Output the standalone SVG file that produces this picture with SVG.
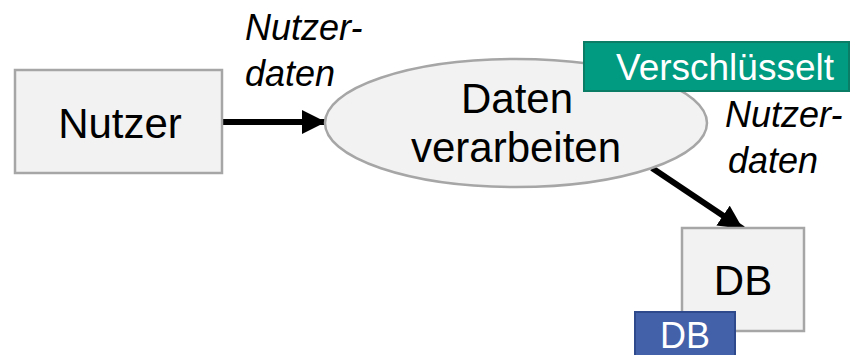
<svg xmlns="http://www.w3.org/2000/svg" width="852" height="355" viewBox="0 0 852 355">
  <style>
    .node { fill: #f2f2f2; stroke: #a6a6a6; stroke-width: 2.5; }
    .label { font-family: "Liberation Sans", Arial, sans-serif; font-size: 42px; fill: #000; text-anchor: middle; }
    .flow { font-family: "Liberation Sans", Arial, sans-serif; font-size: 36px; font-style: italic; fill: #000; }
    .tag { font-family: "Liberation Sans", Arial, sans-serif; font-size: 37px; fill: #fff; text-anchor: middle; }
    .edge { stroke: #000; stroke-width: 6; fill: none; }
  </style>
  <defs>
    <marker id="arrow" viewBox="0 0 10 10" refX="10" refY="5" markerWidth="4" markerHeight="4" markerUnits="strokeWidth" orient="auto">
      <path d="M0,0 L10,5 L0,10 z" fill="#000"/>
    </marker>
  </defs>
  <rect width="852" height="355" fill="#fff"/>

  <g id="connectors">
    <line class="edge" x1="222" y1="122" x2="326" y2="122" marker-end="url(#arrow)"/>
    <line class="edge" x1="652" y1="168" x2="743" y2="229" marker-end="url(#arrow)"/>
    <text class="flow" x="245" y="40">Nutzer-</text>
    <text class="flow" x="245" y="86">daten</text>
    <text class="flow" x="725" y="127">Nutzer-</text>
    <text class="flow" x="728" y="173">daten</text>
  </g>

  <g id="nutzer">
    <rect class="node" x="15" y="70" width="207" height="103"/>
    <text class="label" x="120" y="138">Nutzer</text>
  </g>

  <g id="verarbeiten">
    <ellipse class="node" cx="516" cy="123" rx="191" ry="64"/>
    <text class="label" x="517" y="113">Daten</text>
    <text class="label" x="516" y="162">verarbeiten</text>
  </g>

  <g id="verschluesselt">
    <rect x="584" y="42" width="265" height="49" fill="#009b80" stroke="#0b7c66" stroke-width="2"/>
    <text class="tag" x="725" y="80">Verschlüsselt</text>
  </g>

  <g id="db">
    <rect class="node" x="682" y="228" width="122" height="103"/>
    <text class="label" x="743" y="295">DB</text>
  </g>

  <g id="db-tag">
    <rect x="635" y="312" width="100" height="50" fill="#4361a9" stroke="#2e4a8c" stroke-width="2"/>
    <text class="tag" x="685" y="348" style="font-size:36px">DB</text>
  </g>
</svg>
